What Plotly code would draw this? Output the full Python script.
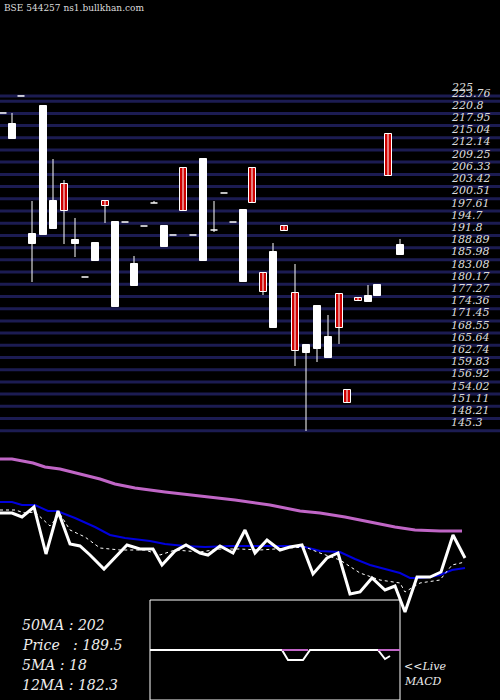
import plotly.graph_objects as go

# price grid labels (right side)
grid_levels = [225, 223.76, 220.8, 217.95, 215.04, 212.14, 209.25, 206.33, 203.42,
               200.51, 197.61, 194.7, 191.8, 188.89, 185.98, 183.08, 180.17, 177.27,
               174.36, 171.45, 168.55, 165.64, 162.74, 159.83, 156.92, 154.02,
               151.11, 148.21, 145.3]

# candles: x position, open, high, low, close
cx = [3, 12, 21, 32, 43, 53, 64, 75, 85, 95, 105, 115, 125, 134, 144, 154, 164, 173,
      183, 193, 203, 214, 224, 233, 243, 252, 263, 273, 284, 295, 306, 317, 328, 339,
      347, 358, 368, 377, 388, 400]
c_open = [220.95, 214.75, 225, 189.75, 191.9, 193.33, 204.04, 189.75, 181.9, 185.71,
          199.99, 174.75, 194.99, 179.75, 194.04, 199.52, 189.04, 191.9, 207.85, 191.9,
          185.71, 193.09, 201.9, 194.99, 180.71, 207.85, 182.85, 169.75, 194.04, 178.09,
          163.8, 164.75, 162.61, 177.85, 154.99, 176.9, 175.95, 177.37, 215.95, 187.14]
c_high = [220.95, 220.95, 225, 199.99, 222.61, 209.99, 204.99, 195.95, 181.9, 189.99,
          199.99, 194.99, 194.99, 186.9, 194.04, 199.99, 194.04, 191.9, 207.85, 191.9,
          209.99, 199.99, 201.9, 194.99, 197.85, 207.85, 182.85, 189.99, 194.04, 184.99,
          165.71, 174.99, 172.85, 177.85, 154.99, 176.9, 179.99, 179.99, 215.95, 190.95]
c_low = [220.95, 214.75, 225, 180.71, 191.9, 193.33, 189.75, 186.66, 181.9, 185.71,
         194.75, 174.75, 194.99, 179.75, 194.04, 199.52, 189.04, 191.9, 197.61, 191.9,
         185.71, 192.61, 201.9, 194.99, 180.71, 199.52, 177.61, 169.75, 192.85, 160.71,
         145.23, 161.66, 162.61, 165.95, 151.9, 176.18, 175.95, 177.37, 205.95, 187.14]
c_close = [220.95, 218.33, 225, 192.14, 222.61, 199.99, 197.61, 190.71, 181.9, 189.99,
           198.8, 194.99, 194.99, 184.99, 194.04, 199.52, 194.04, 191.9, 197.61, 191.9,
           209.99, 193.09, 201.9, 194.99, 197.85, 199.52, 178.33, 187.85, 192.85, 164.28,
           165.71, 174.99, 167.61, 169.75, 151.9, 176.18, 177.37, 179.99, 205.95, 189.52]

# lower panel lines (pixel-space panel)
ma50_x = [0, 12, 33, 45, 60, 80, 100, 115, 135, 165, 200, 235, 270, 300, 320, 345, 370, 395, 415, 440, 462]
ma50_y = [459, 459, 463, 467, 469, 474, 479, 484, 488, 492, 496, 500, 505, 511, 513, 517, 522, 527, 530, 531, 531]
blue_x = [0, 12, 22, 35, 48, 57, 75, 95, 110, 125, 150, 165, 185, 205, 230, 260, 290, 305, 320, 340, 355, 370, 385, 400, 410, 420, 430, 440, 452, 465]
blue_y = [502, 502, 505, 505, 511, 511, 518, 527, 535, 538, 541, 544, 546, 547, 546, 546, 546, 547, 551, 552, 559, 565, 569, 573, 578, 578, 577, 575, 570, 568]
price_x = [0, 12, 22, 34, 46, 58, 70, 80, 90, 104, 127, 140, 153, 162, 175, 186, 200, 208, 220, 233, 245, 255, 267, 280, 290, 302, 313, 327, 338, 350, 360, 372, 385, 395, 405, 417, 430, 441, 453, 465]
price_y = [513, 513, 517, 507, 554, 511, 544, 546, 555, 569, 545, 549, 549, 565, 551, 545, 553, 555, 546, 553, 530, 553, 540, 550, 547, 545, 574, 558, 553, 594, 592, 578, 590, 586, 612, 577, 577, 572, 535, 558]
dot_x = [0, 15, 25, 35, 50, 60, 70, 85, 100, 120, 145, 160, 175, 200, 220, 240, 260, 280, 305, 320, 340, 360, 380, 400, 405, 420, 440, 452, 465]
dot_y = [510, 510, 513, 512, 526, 514, 530, 537, 548, 550, 550, 555, 550, 552, 549, 549, 550, 549, 547, 553, 560, 573, 580, 583, 592, 583, 580, 565, 562]
macd_x = [150, 282, 288, 303, 310, 378, 385, 390]
macd_y = [650, 650, 660, 660, 650, 650, 659, 656]

fig = go.Figure()

for lv in grid_levels:
    fig.add_shape(type="line", xref="x", yref="y", x0=0, x1=500, y0=lv, y1=lv,
                  line=dict(color="#1c1c52", width=3), layer="below")
    fig.add_annotation(x=449, y=lv, xref="x", yref="y", text="<i>%s</i>" % lv, showarrow=False,
                       xanchor="left", yanchor="middle", yshift=8,
                       font=dict(family="DejaVu Serif", size=11, color="#dddddd"))

for x, o, h, l, c in zip(cx, c_open, c_high, c_low, c_close):
    col = "#cc0000" if c < o else "white"
    if h > l:
        fig.add_trace(go.Scatter(x=[x, x], y=[l, h], mode="lines", yaxis="y",
                                 line=dict(color="white", width=1), showlegend=False))
    if abs(o - c) < 0.5:
        fig.add_trace(go.Scatter(x=[x - 3.5, x + 3.5], y=[o, o], mode="lines",
                                 line=dict(color="white", width=1.5), showlegend=False))
    else:
        fig.add_trace(go.Bar(x=[x], y=[abs(c - o)], base=[min(o, c)], width=7,
                             marker=dict(color=col, line=dict(color="white", width=1)),
                             showlegend=False))

fig.add_trace(go.Scatter(x=ma50_x, y=ma50_y, yaxis="y2", mode="lines",
                         line=dict(color="#c066c6", width=3), showlegend=False))
fig.add_trace(go.Scatter(x=blue_x, y=blue_y, yaxis="y2", mode="lines",
                         line=dict(color="#0000dd", width=2), showlegend=False))
fig.add_trace(go.Scatter(x=dot_x, y=dot_y, yaxis="y2", mode="lines",
                         line=dict(color="white", width=1, dash="dot"), showlegend=False))
fig.add_trace(go.Scatter(x=price_x, y=price_y, yaxis="y2", mode="lines",
                         line=dict(color="white", width=3), showlegend=False))

fig.add_shape(type="rect", xref="x", yref="y2", x0=150, x1=400, y0=600, y1=700,
              line=dict(color="white", width=1))
fig.add_shape(type="line", xref="x", yref="y2", x0=282, x1=308, y0=650, y1=650,
              line=dict(color="#c066c6", width=2))
fig.add_shape(type="line", xref="x", yref="y2", x0=378, x1=400, y0=650, y1=650,
              line=dict(color="#c066c6", width=2))
fig.add_trace(go.Scatter(x=macd_x, y=macd_y, yaxis="y2", mode="lines",
                         line=dict(color="white", width=2), showlegend=False))

for i, t in enumerate(["50MA : 202", "Price   : 189.5", "5MA : 18", "12MA : 182.3"]):
    fig.add_annotation(x=20, y=625 + 20 * i, xref="x", yref="y2", text="<i>%s</i>" % t,
                       showarrow=False, xanchor="left",
                       font=dict(family="DejaVu Serif", size=14, color="#eeeeee"))
fig.add_annotation(x=402, y=666, xref="x", yref="y2", text="<i><<Live</i>", showarrow=False,
                   xanchor="left", font=dict(family="DejaVu Serif", size=11, color="#eeeeee"))
fig.add_annotation(x=402, y=681, xref="x", yref="y2", text="<i>MACD</i>", showarrow=False,
                   xanchor="left", font=dict(family="DejaVu Serif", size=11, color="#eeeeee"))
fig.add_annotation(x=0.004, y=0.999, xref="paper", yref="paper", text="BSE 544257 ns1.bullkhan.com",
                   showarrow=False, xanchor="left", yanchor="top",
                   font=dict(family="DejaVu Serif", size=9, color="#dddddd"))

fig.update_layout(
    width=500, height=700, margin=dict(l=0, r=0, t=0, b=0),
    paper_bgcolor="black", plot_bgcolor="black", bargap=0,
    xaxis=dict(range=[0, 500], visible=False, fixedrange=True),
    yaxis=dict(range=[143.09, 247.85], domain=[260 / 700, 1], visible=False),
    yaxis2=dict(range=[700, 440], domain=[0, 260 / 700], visible=False),
    font=dict(family="DejaVu Serif"),
)
fig.write_html("out.html", config={"displayModeBar": False},
               post_script="document.body.style.margin='0';")
